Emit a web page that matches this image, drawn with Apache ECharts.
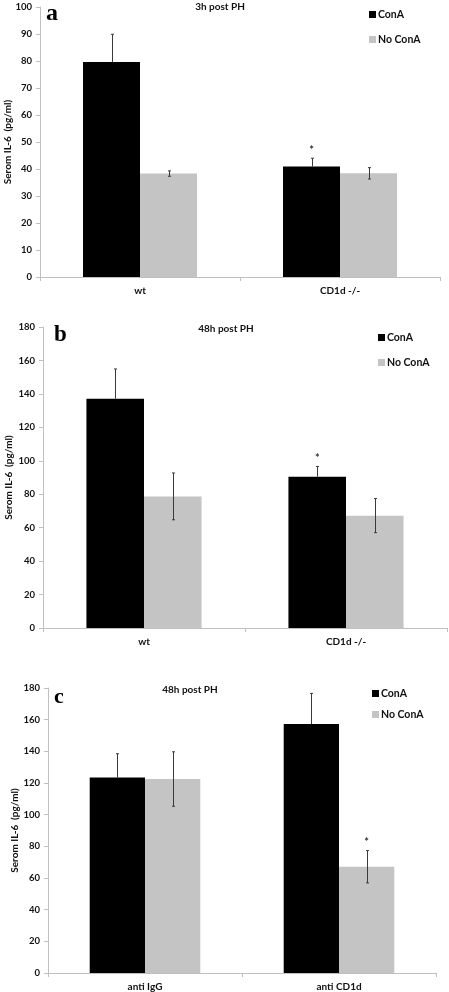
<!DOCTYPE html>
<html>
<head>
<meta charset="utf-8">
<script src="https://cdn.jsdelivr.net/npm/echarts@6/dist/echarts.min.js"></script>
<style>html,body{margin:0;padding:0;background:#fff}#c{width:449px;height:992px}</style>
</head>
<body>
<div id="c"></div>
<script>
// Panel a: 3h post PH
const catsA = ['wt', 'CD1d -/-'];
const conA_A = [79.6, 40.9];
const conA_A_err = [10.3, 3.1];
const noConA_A = [38.3, 38.4];
const noConA_A_err = [1.0, 2.1];
const starsA = [[1, 0]]; // [categoryIndex, seriesIndex]

// Panel b: 48h post PH
const catsB = ['wt', 'CD1d -/-'];
const conA_B = [137.1, 90.5];
const conA_B_err = [17.8, 6.1];
const noConA_B = [78.7, 67.2];
const noConA_B_err = [14.0, 10.2];
const starsB = [[1, 0]];

// Panel c: 48h post PH
const catsC = ['anti IgG', 'anti CD1d'];
const conA_C = [123.4, 157.3];
const conA_C_err = [15.1, 19.3];
const noConA_C = [122.5, 67.1];
const noConA_C_err = [17.2, 10.2];
const starsC = [[1, 1]];

const yTicksA = {min: 0, max: 100, interval: 10};
const yTicksBC = {min: 0, max: 180, interval: 20};

const FONT = 'Lato';
const BAR_W = 0.285;

function errData(conA, conAerr, no, noerr) {
  const d = [];
  conA.forEach((v, i) => d.push([i, v, conAerr[i], 0]));
  no.forEach((v, i) => d.push([i, v, noerr[i], 1]));
  return d;
}
function starData(stars, conA, conAerr, no, noerr) {
  return stars.map(s => {
    const m = s[1] === 0 ? conA[s[0]] : no[s[0]];
    const e = s[1] === 0 ? conAerr[s[0]] : noerr[s[0]];
    return [s[0], m + e, s[1]];
  });
}
function renderErr(params, api) {
  const cat = api.value(0), m = api.value(1), e = api.value(2), s = api.value(3);
  const catW = api.size([1, 0])[0];
  const bw = catW * BAR_W;
  const cx = Math.round(api.coord([cat, m])[0] + (s === 0 ? -bw / 2 : bw / 2)) + 0.5;
  const top = api.coord([cat, m + e])[1];
  const mid = api.coord([cat, m])[1];
  const bot = api.coord([cat, m - e])[1];
  const st = {stroke: '#3a3a3a', lineWidth: 1};
  const ch = [
    {type: 'line', shape: {x1: cx, y1: top, x2: cx, y2: s === 0 ? mid : bot}, style: st},
    {type: 'line', shape: {x1: cx - 1.5, y1: top, x2: cx + 1.5, y2: top}, style: st}
  ];
  if (s === 1) ch.push({type: 'line', shape: {x1: cx - 1.5, y1: bot, x2: cx + 1.5, y2: bot}, style: st});
  return {type: 'group', children: ch};
}
function renderStar(params, api) {
  const cat = api.value(0), v = api.value(1), s = api.value(2);
  const catW = api.size([1, 0])[0];
  const bw = catW * BAR_W;
  const pt = api.coord([cat, v]);
  const cx = pt[0] + (s === 0 ? -bw / 2 : bw / 2);
  return {type: 'text', x: cx, y: pt[1] - 8,
    style: {text: '*', fill: '#333', font: 'bold 11px ' + FONT, textAlign: 'center', textVerticalAlign: 'middle'}};
}

const grids = [
  {left: 40, top: 7, width: 400, height: 270, containLabel: false, outerBoundsMode: 'none'},
  {left: 43, top: 327, width: 404, height: 301, containLabel: false, outerBoundsMode: 'none'},
  {left: 48, top: 688, width: 388, height: 285, containLabel: false, outerBoundsMode: 'none'}
];
const cats = [catsA, catsB, catsC];
const yt = [yTicksA, yTicksBC, yTicksBC];
const nameGaps = [27, 29, 28];

const axisLine = {lineStyle: {color: '#c0c0c0', width: 1}};
const xAxis = cats.map((c, i) => ({
  type: 'category', gridIndex: i, data: c,
  axisLine: axisLine, axisTick: {show: true, length: 4, lineStyle: {color: '#c0c0c0'}},
  axisLabel: {color: '#111', fontFamily: FONT, fontWeight: 'bold', fontSize: 10, margin: 9}
}));
const yAxis = yt.map((t, i) => ({
  type: 'value', gridIndex: i, min: t.min, max: t.max, interval: t.interval,
  name: 'Serom IL-6  (pg/ml)', nameLocation: 'middle', nameRotate: 90, nameGap: nameGaps[i],
  nameMoveOverlap: false,
  nameTextStyle: {color: '#111', fontFamily: FONT, fontWeight: 'bold', fontSize: 10},
  axisLine: {show: true, lineStyle: {color: '#c0c0c0'}},
  axisTick: {show: true, length: 4, lineStyle: {color: '#c0c0c0'}},
  splitLine: {show: false},
  axisLabel: {color: '#111', fontFamily: FONT, fontWeight: 'bold', fontSize: 9.5, margin: 8}
}));

const panels = [
  [conA_A, conA_A_err, noConA_A, noConA_A_err, starsA],
  [conA_B, conA_B_err, noConA_B, noConA_B_err, starsB],
  [conA_C, conA_C_err, noConA_C, noConA_C_err, starsC]
];
const series = [];
panels.forEach((p, i) => {
  series.push({name: 'ConA', type: 'bar', xAxisIndex: i, yAxisIndex: i, data: p[0],
    barWidth: (BAR_W * 100) + '%', barGap: '0%', itemStyle: {color: '#000'}, z: 2});
  series.push({name: 'No ConA', type: 'bar', xAxisIndex: i, yAxisIndex: i, data: p[2],
    barWidth: (BAR_W * 100) + '%', barGap: '0%', itemStyle: {color: '#c4c4c4'}, z: 2});
  series.push({type: 'custom', xAxisIndex: i, yAxisIndex: i, data: errData(p[0], p[1], p[2], p[3]),
    renderItem: renderErr, encode: {x: 0, y: 1}, z: 5, silent: true});
  series.push({type: 'custom', xAxisIndex: i, yAxisIndex: i, data: starData(p[4], p[0], p[1], p[2], p[3]),
    renderItem: renderStar, encode: {x: 0, y: 1}, z: 5, silent: true});
});

const legendPos = [{left: 369, top: 9, gap: 14}, {left: 378, top: 332, gap: 14}, {left: 372, top: 688, gap: 10}];
const legend = legendPos.map(l => ({
  orient: 'vertical', left: l.left, top: l.top, itemGap: l.gap, itemWidth: 7, itemHeight: 7, icon: 'rect',
  padding: 0,
  data: ['ConA', 'No ConA'],
  textStyle: {color: '#111', fontFamily: FONT, fontWeight: 'bold', fontSize: 10.5, padding: [0, 0, 0, -3]}
}));

const titles = [
  {text: '3h post PH', x: 220, y: 7},
  {text: '48h post PH', x: 226, y: 329},
  {text: '48h post PH', x: 190, y: 690}
];
const letters = [
  {text: 'a', x: 46, y: 14, size: 24},
  {text: 'b', x: 54, y: 335, size: 23},
  {text: 'c', x: 54, y: 697, size: 22}
];
const graphic = [];
titles.forEach(t => graphic.push({type: 'text', x: t.x, y: t.y,
  style: {text: t.text, font: 'bold 10px ' + FONT, fill: '#111', textAlign: 'center', textVerticalAlign: 'middle'}}));
letters.forEach(t => graphic.push({type: 'text', x: t.x, y: t.y,
  style: {text: t.text, font: 'bold ' + t.size + 'px "Liberation Serif"', fill: '#000', textAlign: 'left', textVerticalAlign: 'middle'}}));

const chart = echarts.init(document.getElementById('c'), null, {renderer: 'canvas'});
chart.setOption({
  animation: false,
  backgroundColor: '#fff',
  grid: grids,
  xAxis: xAxis,
  yAxis: yAxis,
  legend: legend,
  series: series,
  graphic: graphic
});
</script>
</body>
</html>
